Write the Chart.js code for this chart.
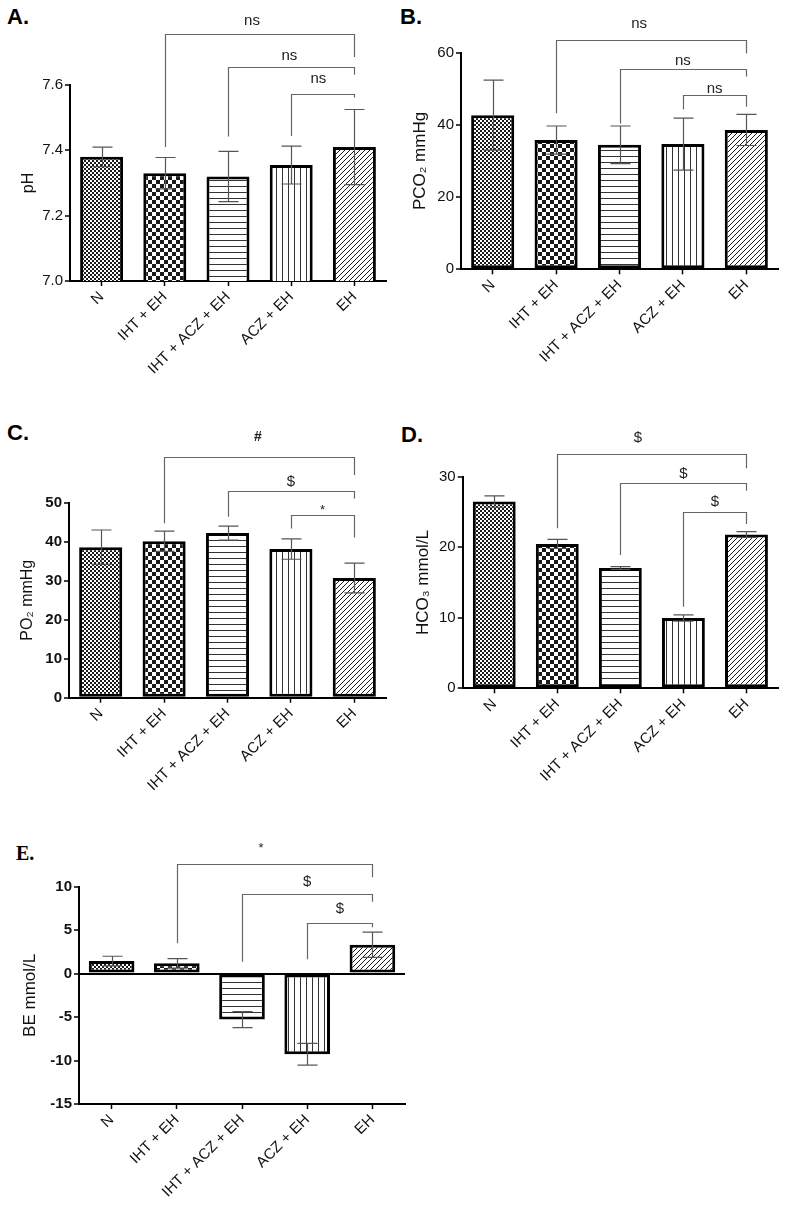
<!DOCTYPE html>
<html><head><meta charset="utf-8">
<script src="https://cdn.jsdelivr.net/npm/chart.js@4.4.0/dist/chart.umd.min.js"></script>
<style>
html,body{margin:0;padding:0;background:#fff;}
body{width:789px;height:1215px;position:relative;overflow:hidden;font-family:"Liberation Sans",Arial,sans-serif;}
canvas{position:absolute;}
.lbl{position:absolute;font-weight:bold;font-size:22px;line-height:22px;color:#000;font-family:"Liberation Sans",Arial,sans-serif;}
.lblE{position:absolute;font-weight:bold;font-size:20px;line-height:20px;color:#000;font-family:"Liberation Serif","Times New Roman",serif;}
</style></head><body>
<div class="lbl" style="left:7px;top:6px">A.</div>
<div class="lbl" style="left:400px;top:6px">B.</div>
<div class="lbl" style="left:7px;top:422px">C.</div>
<div class="lbl" style="left:401px;top:424px">D.</div>
<div class="lblE" style="left:16px;top:843px">E.</div>
<canvas id="cA" width="390" height="410" style="left:0px;top:0px"></canvas>
<canvas id="cB" width="399" height="410" style="left:390px;top:0px"></canvas>
<canvas id="cC" width="390" height="400" style="left:0px;top:420px"></canvas>
<canvas id="cD" width="399" height="400" style="left:390px;top:420px"></canvas>
<canvas id="cE" width="420" height="395" style="left:0px;top:820px"></canvas>
<script>
// ---------- data ----------
const categories = ['N', 'IHT + EH', 'IHT + ACZ + EH', 'ACZ + EH', 'EH'];

const phValues = [7.38, 7.33, 7.32, 7.355, 7.41];
const phErrors = [0.03, 0.048, 0.077, 0.058, 0.115];
const phTicks = [7.0, 7.2, 7.4, 7.6];

const pco2Values = [42.7, 35.8, 34.5, 34.7, 38.6];
const pco2Errors = [9.7, 3.9, 5.2, 7.2, 4.3];
const pco2Ticks = [0, 20, 40, 60];

const po2Values = [38.6, 40.1, 42.2, 38.1, 30.7];
const po2Errors = [4.4, 2.6, 1.8, 2.6, 3.8];
const po2Ticks = [0, 10, 20, 30, 40, 50];

const hco3Values = [26.47, 20.47, 17.06, 9.97, 21.8];
const hco3Errors = [0.8, 0.65, 0.2, 0.45, 0.4];
const hco3Ticks = [0, 10, 20, 30];

const beValues = [1.45, 1.18, -5.29, -9.28, 3.33];
const beErrors = [0.55, 0.55, 0.93, 1.25, 1.45];
const beTicks = [-15, -10, -5, 0, 5, 10];

// significance brackets: [fromIdx, toIdx, level, leftEnd, rightEnd, text, labelIdx, labelLevel]
const phBrackets = [
  [1, 4, 7.756, 7.41, 7.686, 'ns', 2.38, 7.797],
  [2, 4, 7.656, 7.442, 7.631, 'ns', 2.97, 7.689],
  [3, 4, 7.573, 7.444, 7.562, 'ns', 3.43, 7.618]
];
const pco2Brackets = [
  [1, 4, 63.5, 43.2, 59.8, 'ns', 2.31, 68.1],
  [2, 4, 55.4, 40.4, 53.4, 'ns', 3.0, 57.7],
  [3, 4, 48.3, 44.3, 45.0, 'ns', 3.5, 49.9]
];
const po2Brackets = [
  [1, 4, 61.8, 44.7, 57.1, '#', 2.48, 66.9],
  [2, 4, 53.1, 46.4, 51.1, '$', 3.0, 55.4],
  [3, 4, 46.8, 43.4, 41.1, '*', 3.5, 48.05]
];
const hco3Brackets = [
  [1, 4, 33.18, 22.7, 31.2, '$', 2.28, 35.45],
  [2, 4, 29.07, 18.9, 28.0, '$', 3.0, 30.38],
  [3, 4, 25.0, 11.57, 23.3, '$', 3.5, 26.46]
];
const beBrackets = [
  [1, 4, 12.61, 3.49, 11.08, '*', 2.29, 14.45],
  [2, 4, 9.16, 1.37, 8.27, '$', 3.0, 10.57],
  [3, 4, 5.79, 1.65, 5.33, '$', 3.5, 7.40]
];

// ---------- styling ----------
const FONT = '"Liberation Sans", Arial, sans-serif';
Chart.defaults.font.family = FONT;
Chart.defaults.color = '#111';

function makePattern(type) {
  const c = document.createElement('canvas');
  let w = 6, h = 6;
  if (type === 'fine') { w = h = 4; }
  if (type === 'check') { w = h = 8; }
  if (type === 'diag') { w = h = 5; }
  c.width = w; c.height = h;
  const g = c.getContext('2d');
  g.fillStyle = '#fff'; g.fillRect(0, 0, w, h);
  g.fillStyle = '#1a1a1a'; g.strokeStyle = '#1a1a1a';
  if (type === 'fine') { g.fillRect(0, 0, 2, 2); g.fillRect(2, 2, 2, 2); }
  else if (type === 'check') { g.fillRect(0, 0, 4, 4); g.fillRect(4, 4, 4, 4); }
  else if (type === 'h') { g.fillStyle = '#333'; g.fillRect(0, 0, w, 1); }
  else if (type === 'v') { g.fillStyle = '#333'; g.fillRect(0, 0, 1, h); }
  else if (type === 'diag') {
    g.lineWidth = 1;
    g.beginPath();
    g.moveTo(0, h); g.lineTo(w, 0);
    g.moveTo(-1, 1); g.lineTo(1, -1);
    g.moveTo(w - 1, h + 1); g.lineTo(w + 1, h - 1);
    g.stroke();
  }
  return g.createPattern(c, 'repeat');
}
const patterns = ['fine', 'check', 'h', 'v', 'diag'].map(makePattern);

const errorBarPlugin = {
  id: 'errbars',
  afterDatasetsDraw(chart) {
    const ds = chart.data.datasets[0];
    const meta = chart.getDatasetMeta(0);
    const y = chart.scales.y;
    const ctx = chart.ctx;
    ctx.save();
    ctx.strokeStyle = '#555';
    ctx.lineWidth = 1.2;
    meta.data.forEach((bar, i) => {
      const v = ds.data[i], e = ds.errors[i];
      const t = y.getPixelForValue(v + e), b = y.getPixelForValue(v - e);
      const x = Math.round(bar.x) + 0.5;
      ctx.beginPath();
      ctx.moveTo(x, t); ctx.lineTo(x, b);
      ctx.moveTo(x - 10, t); ctx.lineTo(x + 10, t);
      ctx.moveTo(x - 10, b); ctx.lineTo(x + 10, b);
      ctx.stroke();
    });
    ctx.restore();
  }
};

const bracketPlugin = {
  id: 'brackets',
  afterDraw(chart, args, opts) {
    const xs = chart.scales.x, ys = chart.scales.y, ctx = chart.ctx;
    ctx.save();
    ctx.strokeStyle = '#666';
    ctx.lineWidth = 1.2;
    ctx.fillStyle = '#222';
    ctx.textAlign = 'center';
    ctx.textBaseline = 'middle';
    (opts.items || []).forEach(([a, b, lev, le, re, txt, lx, ly]) => {
      const xa = Math.round(xs.getPixelForValue(a)) + 0.5;
      const xb = Math.round(xs.getPixelForValue(b)) + 0.5;
      const yl = Math.round(ys.getPixelForValue(lev)) + 0.5;
      ctx.beginPath();
      ctx.moveTo(xa, ys.getPixelForValue(le));
      ctx.lineTo(xa, yl);
      ctx.lineTo(xb, yl);
      ctx.lineTo(xb, ys.getPixelForValue(re));
      ctx.stroke();
      let f = '15px ' + FONT;
      if (txt === '#') f = 'bold 14px ' + FONT;
      if (txt === '*') f = '13px ' + FONT;
      ctx.font = f;
      ctx.fillText(txt, xs.getPixelForValue(lx), ys.getPixelForValue(ly));
    });
    ctx.restore();
  }
};

function makePanel(p) {
  const yMin = p.ticks[0], yMax = p.ticks[p.ticks.length - 1];
  new Chart(document.getElementById(p.id), {
    type: 'bar',
    data: {
      labels: categories,
      datasets: [{
        data: p.values,
        errors: p.errors,
        backgroundColor: patterns,
        borderColor: '#000',
        borderWidth: 3,
        borderSkipped: false,
        barPercentage: p.barPct,
        categoryPercentage: 1.0
      }]
    },
    options: {
      responsive: false,
      animation: false,
      layout: { autoPadding: false, padding: p.pad },
      plugins: {
        legend: { display: false },
        tooltip: { enabled: false },
        title: { display: false },
        brackets: { items: p.brackets }
      },
      scales: {
        x: {
          type: 'category',
          offset: true,
          grid: { display: true, offset: false, drawOnChartArea: false, drawTicks: true, tickLength: 5, tickWidth: 1.5, tickColor: '#000' },
          border: { display: true, color: '#000', width: 2 },
          ticks: { maxRotation: 45, minRotation: 45, autoSkip: false, font: { size: 15 }, color: '#111', padding: 2 },
          afterFit(s) { s.height = p.xH; s.paddingLeft = 0; s.paddingRight = 0; s.paddingTop = 0; s.paddingBottom = 0; }
        },
        y: {
          type: 'linear',
          min: yMin, max: yMax,
          afterBuildTicks(s) { s.ticks = p.ticks.map(v => ({ value: v })); },
          ticks: { callback: v => p.fmt(v), font: { size: 15, weight: p.bold ? 'bold' : 'normal' }, color: '#111', padding: 2 },
          grid: {
            display: true,
            drawOnChartArea: p.zero,
            color: c => (c.tick && c.tick.value === 0) ? '#000' : 'rgba(0,0,0,0)',
            lineWidth: 2,
            drawTicks: true, tickLength: 5, tickWidth: 1.5, tickColor: '#000'
          },
          border: { display: true, color: '#000', width: 2 },
          title: { display: true, text: p.title, font: { size: p.titleSize }, color: '#111', padding: { top: p.titlePad, bottom: 0 } },
          afterFit(s) { s.width = p.yW; s.paddingLeft = 0; s.paddingRight = 0; s.paddingTop = 0; s.paddingBottom = 0; }
        }
      }
    },
    plugins: [errorBarPlugin, bracketPlugin]
  });
}

makePanel({ id: 'cA', values: phValues, errors: phErrors, ticks: phTicks, fmt: v => v.toFixed(1), title: 'pH', titleSize: 16,
  brackets: phBrackets, pad: { left: 0, top: 85, right: 4, bottom: 9 }, yW: 70, xH: 120, titlePad: 19, bold: false, barPct: 0.68, zero: false });
makePanel({ id: 'cB', values: pco2Values, errors: pco2Errors, ticks: pco2Ticks, fmt: v => String(v), title: 'PCO\u2082 mmHg', titleSize: 17,
  brackets: pco2Brackets, pad: { left: 0, top: 52.7, right: 11, bottom: 20.7 }, yW: 71, xH: 120, titlePad: 20, bold: false, barPct: 0.68, zero: false });
makePanel({ id: 'cC', values: po2Values, errors: po2Errors, ticks: po2Ticks, fmt: v => String(v), title: 'PO\u2082 mmHg', titleSize: 16,
  brackets: po2Brackets, pad: { left: 0, top: 82.7, right: 4, bottom: 2.3 }, yW: 69, xH: 120, titlePad: 18, bold: true, barPct: 0.68, zero: false });
makePanel({ id: 'cD', values: hco3Values, errors: hco3Errors, ticks: hco3Ticks, fmt: v => String(v), title: 'HCO\u2083 mmol/L', titleSize: 17,
  brackets: hco3Brackets, pad: { left: 0, top: 56.7, right: 11, bottom: 11.7 }, yW: 72.7, xH: 120, titlePad: 23, bold: false, barPct: 0.68, zero: false });
makePanel({ id: 'cE', values: beValues, errors: beErrors, ticks: beTicks, fmt: v => String(v), title: 'BE mmol/L', titleSize: 17,
  brackets: beBrackets, pad: { left: 0, top: 66.7, right: 15, bottom: 1 }, yW: 79, xH: 110, titlePad: 20, bold: true, barPct: 0.7, zero: true });
</script>
</body></html>
